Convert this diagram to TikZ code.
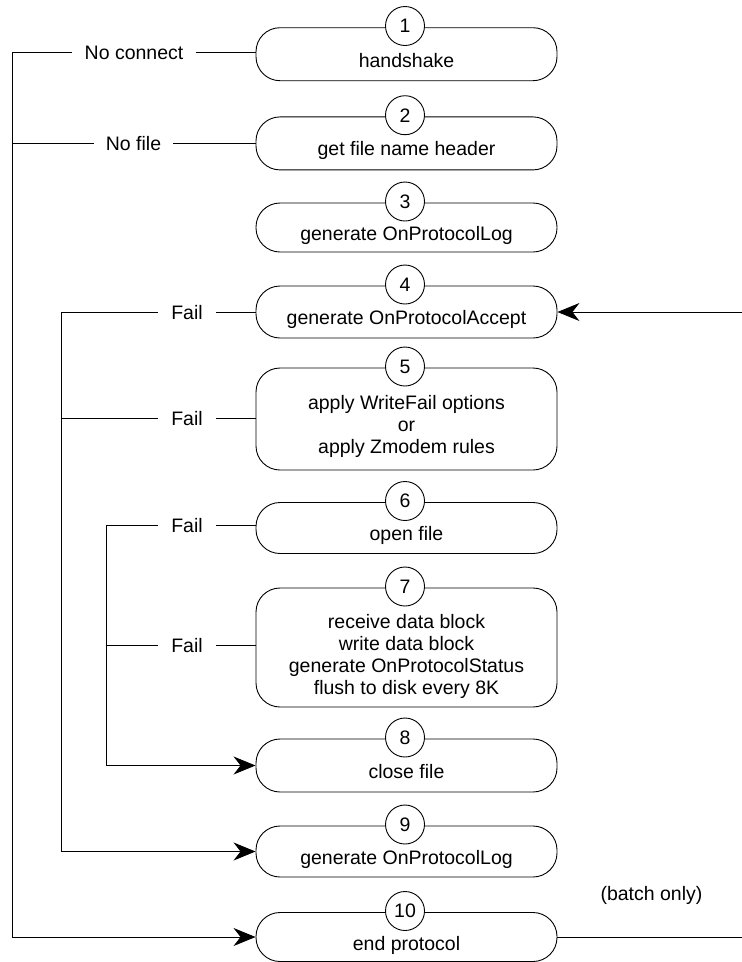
\documentclass[tikz,border=0pt]{standalone}
\usepackage{fontspec}
\setmainfont{Liberation Sans}
\usetikzlibrary{arrows.meta}
\begin{document}
\begin{tikzpicture}[x=1pt,y=-1pt,
  box/.style={draw, line width=0.9pt, rounded corners=24pt, minimum width=301pt, inner sep=0pt},
  num/.style={draw, circle, fill=white, line width=0.9pt, minimum size=39pt, inner sep=0pt, font=\fontsize{19.5}{22}\selectfont},
  txt/.style={anchor=base, inner sep=0pt, font=\fontsize{19.5}{22}\selectfont},
  lbl/.style={inner xsep=12pt, inner ysep=0pt, text height=14pt, text depth=0pt, font=\fontsize{19.5}{22}\selectfont},
  fl/.style={lbl, inner xsep=13.5pt},
  wire/.style={line width=0.9pt},
  arr/.style={wire, -{Stealth[length=22pt,width=18pt,inset=7pt]}}
]
\useasboundingbox (0,0) rectangle (742,962);

% boxes
\node[box, minimum height=53pt] (b1) at (406.5,54.2) {};
\node[box, minimum height=53pt] (b2) at (406.5,143.4) {};
\node[box, minimum height=49pt] (b3) at (406.5,227.5) {};
\node[box, minimum height=52pt] (b4) at (406.5,312) {};
\node[box, minimum height=102pt] (b5) at (406.5,419) {};
\node[box, minimum height=51pt] (b6) at (406.5,528) {};
\node[box, minimum height=119pt] (b7) at (406.5,647.5) {};
\node[box, minimum height=53pt] (b8) at (406.5,765.5) {};
\node[box, minimum height=51pt] (b9) at (406.5,851.5) {};
\node[box, minimum height=49pt] (b10) at (406.5,937) {};

% numbers
\node[num] (c1) at (405,26) {1};
\node[num] (c2) at (405,115.2) {2};
\node[num] (c3) at (405,201.5) {3};
\node[num] (c4) at (405,284.5) {4};
\node[num] (c5) at (405,366.5) {5};
\node[num] (c6) at (405,501) {6};
\node[num] (c7) at (405,586.5) {7};
\node[num] (c8) at (405,737.5) {8};
\node[num] (c9) at (405,824.5) {9};
\node[num] (c10) at (405,911) {10};

% texts
\node[txt] (t1) at (406.5,67.5) {handshake};
\node[txt] (t2) at (406.5,155.5) {get file name header};
\node[txt] (t3) at (406.5,240.3) {generate OnProtocolLog};
\node[txt] (t4) at (406.5,324) {generate OnProtocolAccept};
\node[txt] (t5a) at (406.5,409.3) {apply WriteFail options};
\node[txt] (t5b) at (406.5,431.5) {or};
\node[txt] (t5c) at (406.5,453.5) {apply Zmodem rules};
\node[txt] (t6) at (406.5,540.8) {open file};
\node[txt] (t7a) at (406.5,628.3) {receive data block};
\node[txt] (t7b) at (406.5,650.3) {write data block};
\node[txt] (t7c) at (406.5,672.3) {generate OnProtocolStatus};
\node[txt] (t7d) at (406.5,694.3) {flush to disk every 8K};
\node[txt] (t8) at (406.5,778.5) {close file};
\node[txt] (t9) at (406.5,864.5) {generate OnProtocolLog};
\node[txt] (t10) at (406.5,950) {end protocol};
\node[txt] (tb) at (651.5,900.5) {(batch only)};

% labels
\node[lbl] (l1) at (134,52) {No connect};
\node[lbl] (l2) at (133.5,143) {No file};
\node[fl] (l4) at (187,312) {Fail};
\node[fl] (l5) at (187,418) {Fail};
\node[fl] (l6) at (187,525) {Fail};
\node[fl] (l7) at (187,645) {Fail};

% outer branch
\coordinate (o1) at (12.7,52);
\draw[wire] (o1) -- (l1.west);
\draw[wire] (l1.east) -- (l1.east -| b1.west);
\draw[wire] (l2.west) -- (l2.west -| o1);
\draw[wire] (l2.east) -- (l2.east -| b2.west);
\draw[arr] (o1) |- (b10.west);

% middle branch
\coordinate (m1) at (61,312);
\draw[wire] (m1) -- (l4.west);
\draw[wire] (l4.east) -- (b4.west);
\draw[wire] (l5.west) -- (l5.west -| m1);
\draw[wire] (l5.east) -- (l5.east -| b5.west);
\draw[arr] (m1) |- (b9.west);

% inner branch
\coordinate (i1) at (106,525);
\draw[wire] (i1) -- (l6.west);
\draw[wire] (l6.east) -- (l6.east -| b6.west);
\draw[wire] (l7.west) -- (l7.west -| i1);
\draw[wire] (l7.east) -- (l7.east -| b7.west);
\draw[arr] (i1) |- (b8.west);

% right side
\coordinate (r1) at (742,312);
\coordinate (r2) at (742,937);
\draw[arr] (r1) -- (b4.east);
\draw[wire] (b10.east) -- (r2);
\end{tikzpicture}
\end{document}
